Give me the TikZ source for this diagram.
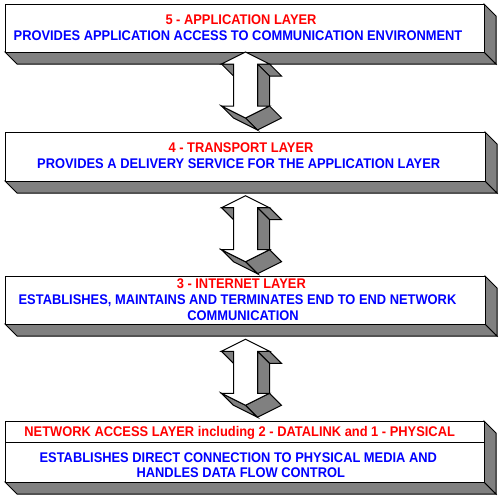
\documentclass[tikz,border=0pt]{standalone}
\usepackage{fontspec}
\setmainfont{Liberation Sans}[FakeStretch=0.92]
\definecolor{shade}{HTML}{808080}
\definecolor{headred}{HTML}{FF0000}
\definecolor{descblue}{HTML}{0000FF}
\newcommand\LayerBox[4]{%
  \draw[face] (#1,#4) -- (#1+12,#4+12) -- (#3+12,#4+12) -- (#3,#4) -- cycle;
  \draw[face] (#3,#2) -- (#3+12,#2+12) -- (#3+12,#4+12) -- (#3,#4) -- cycle;
  \draw[front] (#1,#2) rectangle (#3,#4);
}
\newcommand\BlockArrow[2]{%
  % underside of upper head, left and right
  \draw[face] (#1-24,#2+12) -- (#1-12,#2+12) -- (#1,#2+24) -- (#1-12,#2+24) -- cycle;
  \draw[face] (#1+12,#2+12) -- (#1+24,#2+12) -- (#1+36,#2+24) -- (#1+24,#2+24) -- cycle;
  % right side of shaft
  \draw[face] (#1+12,#2+12) -- (#1+12,#2+54) -- (#1+24,#2+66) -- (#1+24,#2+24) -- cycle;
  % lower head sides
  \draw[face] (#1+24,#2+54) -- (#1,#2+66) -- (#1+12,#2+78) -- (#1+36,#2+66) -- cycle;
  \draw[face] (#1,#2+66) -- (#1-24,#2+54) -- (#1-12,#2+66) -- (#1+12,#2+78) -- cycle;
  % front face
  \draw[front] (#1,#2) -- (#1+24,#2+12) -- (#1+12,#2+12) -- (#1+12,#2+54)
     -- (#1+24,#2+54) -- (#1,#2+66) -- (#1-24,#2+54) -- (#1-12,#2+54)
     -- (#1-12,#2+12) -- (#1-24,#2+12) -- cycle;
}
\tikzset{
  face/.style={fill=shade, draw=black, line width=1pt, line join=miter},
  front/.style={fill=white, draw=black, line width=1pt, line join=miter},
  headtext/.style={text=headred, font=\fontsize{14}{16}\selectfont\bfseries, anchor=base, inner sep=0pt},
  desctext/.style={text=descblue, font=\fontsize{14}{16}\selectfont\bfseries, anchor=base, inner sep=0pt}
}
\begin{document}
\begin{tikzpicture}[x=1pt,y=-1pt]
\useasboundingbox (0,0) rectangle (499,496);
% layer boxes
\LayerBox{5}{4}{484}{52}
\LayerBox{5}{132}{485}{181}
\LayerBox{5}{276}{485}{324}
\LayerBox{5}{421}{484}{482}
\draw[line width=1pt] (5,442) -- (484,442);
% texts
\node[headtext] (l5h) at (241,24) {5 - APPLICATION LAYER};
\node[desctext] (l5d) at (238,40) {PROVIDES APPLICATION ACCESS TO COMMUNICATION ENVIRONMENT};
\node[headtext] (l4h) at (241,152.3) {4 - TRANSPORT LAYER};
\node[desctext] (l4d) at (238.7,168.3) {PROVIDES A DELIVERY SERVICE FOR THE APPLICATION LAYER};
\node[headtext] (l3h) at (241.3,288.3) {3 - INTERNET LAYER};
\node[desctext] (l3d) at (237.5,304.3) {ESTABLISHES, MAINTAINS AND TERMINATES END TO END NETWORK};
\node[desctext] (l3e) at (243,320) {COMMUNICATION};
\node[headtext] (l1h) at (239.7,436.7) {NETWORK ACCESS LAYER including 2 - DATALINK and 1 - PHYSICAL};
\node[desctext] (l1d) at (238.3,462.3) {ESTABLISHES DIRECT CONNECTION TO PHYSICAL MEDIA AND};
\node[desctext] (l1e) at (240.8,477.7) {HANDLES DATA FLOW CONTROL};
% double arrows
\BlockArrow{245.5}{52}
\BlockArrow{245.5}{195.7}
\BlockArrow{245.5}{339.3}
\end{tikzpicture}
\end{document}
